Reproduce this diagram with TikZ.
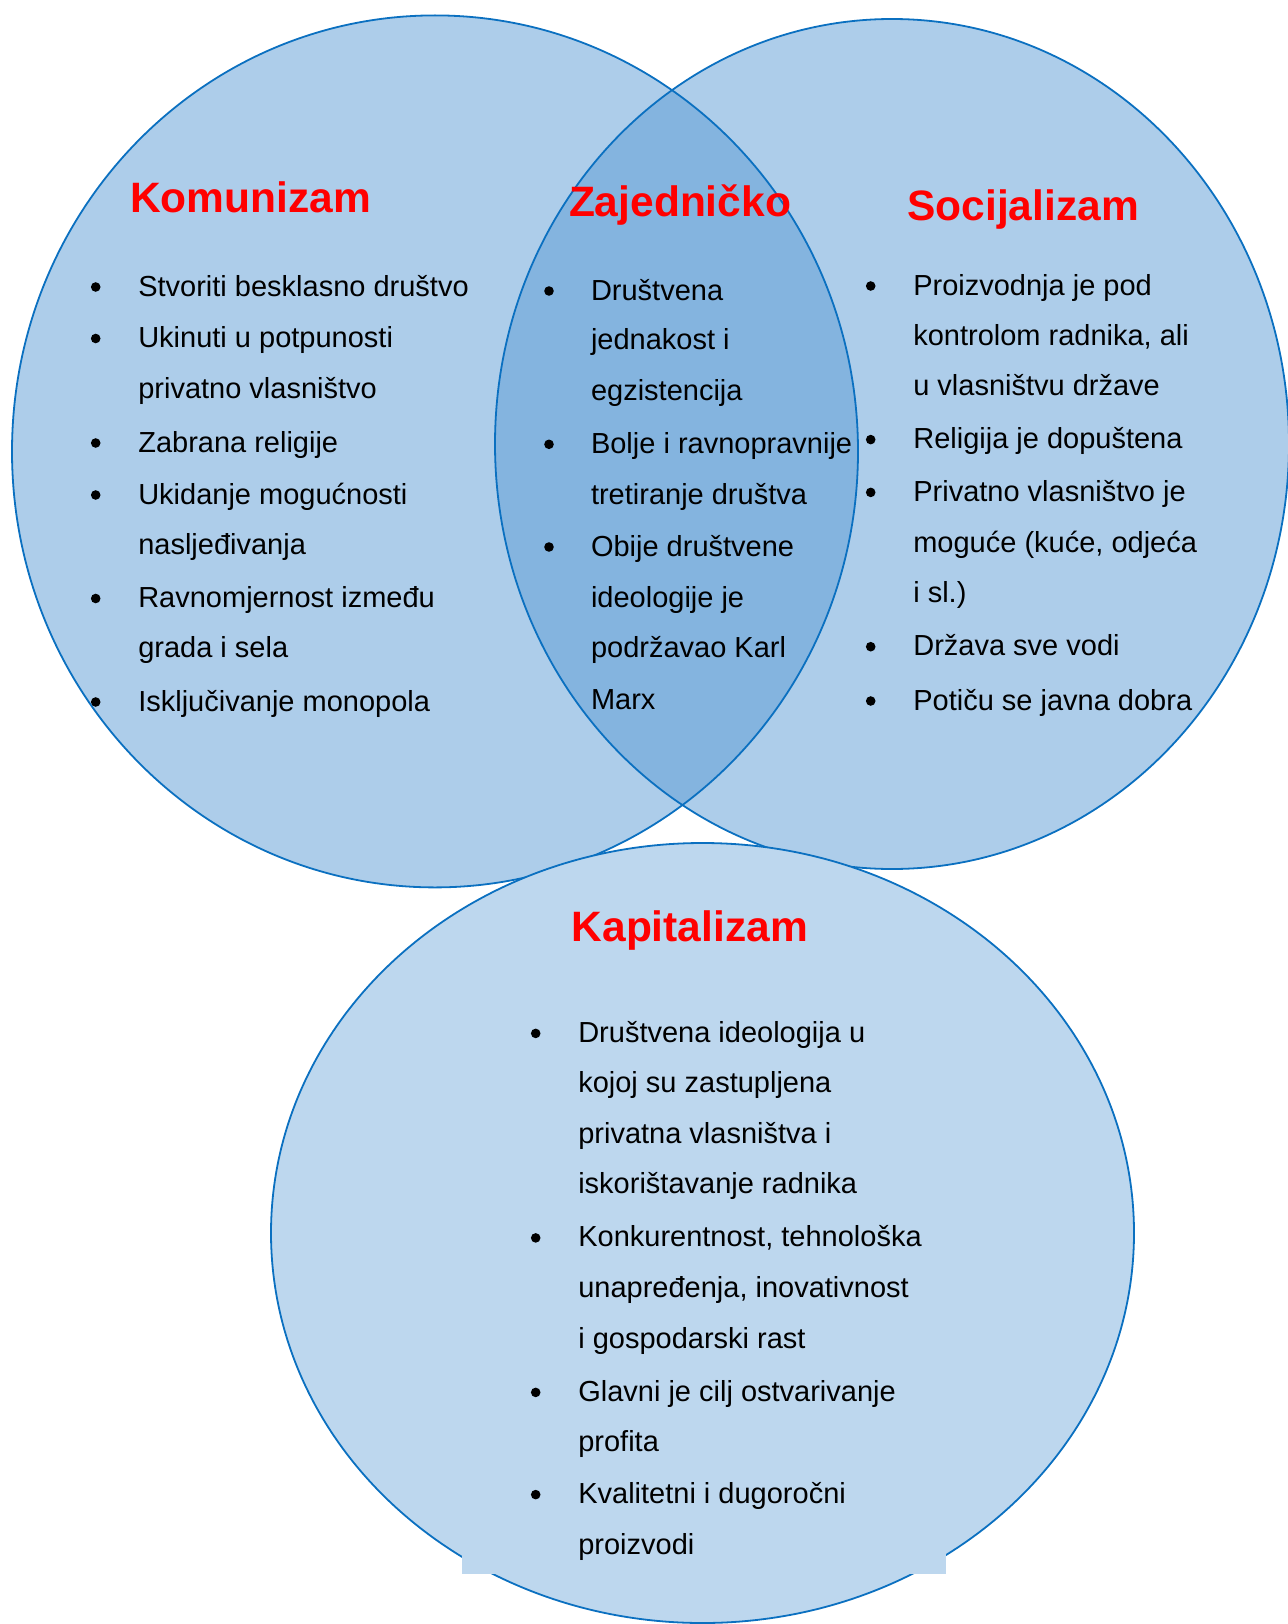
\documentclass[tikz,border=0pt]{standalone}
\usepackage{fontspec}
\setmainfont{Liberation Sans}
\definecolor{circblue}{HTML}{5B9BD5}
\definecolor{capfill}{HTML}{BDD7EE}
\definecolor{edgeblue}{HTML}{0B70C0}
\definecolor{titlered}{HTML}{FF0000}
\tikzset{
  txt/.style={anchor=base west, inner sep=0pt, outer sep=0pt, text=black, font=\fontsize{29}{35}\selectfont},
  ttl/.style={anchor=base west, inner sep=0pt, outer sep=0pt, text=titlered, font=\bfseries\fontsize{42.5}{50}\selectfont},
  bul/.style={circle, fill=black, draw=none, inner sep=0pt, minimum size=9.6pt},
  venn/.style={fill=circblue, fill opacity=0.5},
  vedge/.style={draw=edgeblue, line width=1.8pt}
}
\begin{document}
\begin{tikzpicture}[x=1pt,y=-1pt]
\useasboundingbox (0,0) rectangle (1287,1624);
% upper circles
\fill[venn] (435,451.4) ellipse [x radius=423pt, y radius=436pt];
\fill[venn] (892,444) ellipse [x radius=397pt, y radius=425pt];
\draw[vedge] (435,451.4) ellipse [x radius=423pt, y radius=436pt];
\draw[vedge] (892,444) ellipse [x radius=397pt, y radius=425pt];
% lower circle
\draw[vedge, fill=capfill] (702.5,1233) ellipse [x radius=431.5pt, y radius=390pt];
\fill[capfill] (462,960) rectangle (946,1574);

% titles
\node[ttl] (tK) at (130,212) {Komunizam};
\node[ttl] (tZ) at (569,216.7) {Zajedničko};
\node[ttl] (tS) at (907.3,220.7) {Socijalizam};
\node[ttl] (tC) at (571.7,941.3) {Kapitalizam};

% Komunizam list
\node[bul] (kb1) at (95.7,287) {};
\node[txt] (k1) at (138.3,296) {Stvoriti besklasno društvo};
\node[bul] (kb2) at (95.7,338.5) {};
\node[txt] (k2) at (138.3,347.5) {Ukinuti u potpunosti};
\node[txt] (k3) at (138.3,398) {privatno vlasništvo};
\node[bul] (kb3) at (95.7,443) {};
\node[txt] (k4) at (138.3,452) {Zabrana religije};
\node[bul] (kb4) at (95.7,495) {};
\node[txt] (k5) at (138.3,504) {Ukidanje mogućnosti};
\node[txt] (k6) at (138.3,554.6) {nasljeđivanja};
\node[bul] (kb5) at (95.7,598.5) {};
\node[txt] (k7) at (138.3,607.5) {Ravnomjernost između};
\node[txt] (k8) at (138.3,657.5) {grada i sela};
\node[bul] (kb6) at (95.7,702) {};
\node[txt] (k9) at (138.3,711) {Isključivanje monopola};

% Zajednicko list
\node[bul] (zb1) at (549,291) {};
\node[txt] (z1) at (591,300) {Društvena};
\node[txt] (z2) at (591,349.3) {jednakost i};
\node[txt] (z3) at (591,400.7) {egzistencija};
\node[bul] (zb2) at (549,444.3) {};
\node[txt] (z4) at (591,453.3) {Bolje i ravnopravnije};
\node[txt] (z5) at (591,504) {tretiranje društva};
\node[bul] (zb3) at (549,547) {};
\node[txt] (z6) at (591,556) {Obije društvene};
\node[txt] (z7) at (591,607.3) {ideologije je};
\node[txt] (z8) at (591,657.3) {podržavao Karl};
\node[txt] (z9) at (591,709.3) {Marx};

% Socijalizam list
\node[bul] (sb1) at (870.7,286) {};
\node[txt] (s1) at (913.3,295) {Proizvodnja je pod};
\node[txt] (s2) at (913.3,345.7) {kontrolom radnika, ali};
\node[txt] (s3) at (913.3,395.7) {u vlasništvu države};
\node[bul] (sb2) at (870.7,439.6) {};
\node[txt] (s4) at (913.3,448.6) {Religija je dopuštena};
\node[bul] (sb3) at (870.7,492.4) {};
\node[txt] (s5) at (913.3,501.4) {Privatno vlasništvo je};
\node[txt] (s6) at (913.3,552) {moguće (kuće, odjeća};
\node[txt] (s7) at (913.3,602) {i sl.)};
\node[bul] (sb4) at (870.7,646.7) {};
\node[txt] (s8) at (913.3,655.7) {Država sve vodi};
\node[bul] (sb5) at (870.7,701) {};
\node[txt] (s9) at (913.3,710) {Potiču se javna dobra};

% Kapitalizam list
\node[bul] (cb1) at (535.7,1033.4) {};
\node[txt] (c1) at (578.3,1042.4) {Društvena ideologija u};
\node[txt] (c2) at (578.3,1092.9) {kojoj su zastupljena};
\node[txt] (c3) at (578.3,1143.4) {privatna vlasništva i};
\node[txt] (c4) at (578.3,1193) {iskorištavanje radnika};
\node[bul] (cb2) at (535.7,1237.9) {};
\node[txt] (c5) at (578.3,1246.9) {Konkurentnost, tehnološka};
\node[txt] (c6) at (578.3,1297.4) {unapređenja, inovativnost};
\node[txt] (c7) at (578.3,1348) {i gospodarski rast};
\node[bul] (cb3) at (535.7,1392.4) {};
\node[txt] (c8) at (578.3,1401.4) {Glavni je cilj ostvarivanje};
\node[txt] (c9) at (578.3,1451) {profita};
\node[bul] (cb4) at (535.7,1494.6) {};
\node[txt] (c10) at (578.3,1503.6) {Kvalitetni i dugoročni};
\node[txt] (c11) at (578.3,1554) {proizvodi};
\end{tikzpicture}
\end{document}
